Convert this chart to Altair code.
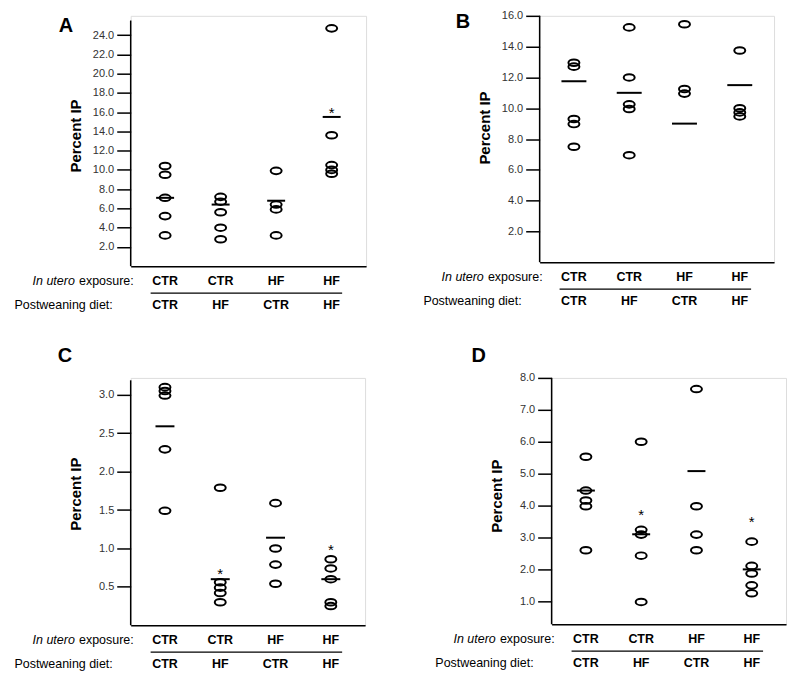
import altair as alt
import pandas as pd

# ---------------- data ----------------
GROUPS = ["CTR|CTR", "CTR|HF", "HF|CTR", "HF|HF"]
IN_UTERO = ["CTR", "CTR", "HF", "HF"]
POSTWEANING = ["CTR", "HF", "CTR", "HF"]

# Panel A
A_VALUES = [
    [10.4, 9.5, 7.1, 5.2, 3.2],
    [7.2, 6.7, 5.6, 4.0, 2.8],
    [9.9, 6.4, 5.9, 3.2],
    [24.7, 13.6, 10.5, 10.0, 9.6],
]
A_MEANS = [7.1, 6.4, 6.8, 15.5]
A_STARS = [None, None, None, 16.2]

# Panel B
B_VALUES = [
    [12.95, 12.7, 9.3, 8.97, 7.5],
    [15.25, 12.0, 10.25, 9.95, 6.95],
    [15.45, 11.25, 10.95],
    [13.75, 10.0, 9.73, 9.47],
]
B_MEANS = [11.75, 11.0, 9.0, 11.5]
B_STARS = [None, None, None, None]

# Panel C
C_VALUES = [
    [3.10, 3.05, 2.99, 2.29, 1.49],
    [1.79, 0.56, 0.49, 0.42, 0.30],
    [1.59, 1.00, 0.79, 0.54],
    [0.86, 0.74, 0.60, 0.30, 0.25],
]
C_MEANS = [2.59, 0.60, 1.14, 0.60]
C_STARS = [None, 0.70, None, 1.02]

# Panel D
D_VALUES = [
    [5.53, 4.47, 4.16, 3.98, 2.60],
    [6.00, 3.24, 3.09, 2.43, 0.98],
    [7.65, 3.98, 3.09, 2.60],
    [2.87, 2.11, 1.87, 1.50, 1.25],
]
D_MEANS = [4.47, 3.10, 5.08, 2.00]
D_STARS = [None, 3.80, None, 3.58]

A_TICKS = [2.0, 4.0, 6.0, 8.0, 10.0, 12.0, 14.0, 16.0, 18.0, 20.0, 22.0, 24.0]
B_TICKS = [2.0, 4.0, 6.0, 8.0, 10.0, 12.0, 14.0, 16.0]
C_TICKS = [0.5, 1.0, 1.5, 2.0, 2.5, 3.0]
D_TICKS = [1.0, 2.0, 3.0, 4.0, 5.0, 6.0, 7.0, 8.0]

FONT = "Liberation Sans"
ELLIPSE = "M -1 0 A 1 0.6 0 1 1 1 0 A 1 0.6 0 1 1 -1 0 Z"


def panel(letter, values, means, stars, domain, ticks, W, H, mean_w,
          letter_x, letter_y, title_y, axis_top=0):
    pts = pd.DataFrame([{"group": GROUPS[i], "v": v}
                        for i, vs in enumerate(values) for v in vs])
    mdf = pd.DataFrame({"group": GROUPS, "v": means})
    sdf = pd.DataFrame([{"group": GROUPS[i], "v": s}
                        for i, s in enumerate(stars) if s is not None])
    lab = pd.DataFrame({"group": GROUPS, "utero": IN_UTERO, "post": POSTWEANING})
    one = pd.DataFrame({"t": [letter]})

    xscale = alt.Scale(domain=GROUPS, type="point", padding=0.62)
    xenc = alt.X("group:N", scale=xscale,
                 axis=alt.Axis(labels=False, ticks=False, title=None,
                               domainColor="black", domainWidth=1.5))
    yenc = alt.Y("v:Q", scale=alt.Scale(domain=domain, nice=False, zero=False),
                 axis=alt.Axis(values=ticks, format=".1f", title="Percent IP",
                               grid=False, domain=False, labelFont=FONT,
                               labelFontSize=11, labelColor="#333333",
                               labelPadding=3, tickSize=14, tickWidth=1.5,
                               tickColor="black",
                               titleFont=FONT, titleFontSize=15,
                               titleFontWeight="bold", titleColor="black",
                               titleAngle=270, titleX=-55, titleY=title_y,
                               titleAlign="center", titleBaseline="middle"))

    points = alt.Chart(pts).mark_point(
        shape=ELLIPSE, size=121, filled=False, stroke="black",
        strokeWidth=2, opacity=1).encode(x=xenc, y=yenc)
    mean_ticks = alt.Chart(mdf).mark_tick(
        color="black", thickness=2, size=mean_w, opacity=1).encode(x=xenc, y=yenc)
    # y-axis line (may start a little below the top of the plot)
    yline = alt.Chart(one).mark_rule(color="black", strokeWidth=1.5).encode(
        x=alt.value(0), y=alt.value(axis_top), y2=alt.value(H))
    layers = [yline, points, mean_ticks]
    if len(sdf):
        layers.append(alt.Chart(sdf).mark_text(
            text="*", font=FONT, fontSize=15, color="black",
            baseline="alphabetic", dy=8).encode(x=xenc, y=yenc))

    lab1 = alt.Chart(lab).mark_text(
        font=FONT, fontSize=12.5, fontWeight="bold", color="black",
        baseline="middle").encode(x=xenc, y=alt.value(H + 14.5), text="utero:N")
    lab2 = alt.Chart(lab).mark_text(
        font=FONT, fontSize=12.5, fontWeight="bold", color="black",
        baseline="middle").encode(x=xenc, y=alt.value(H + 38.5), text="post:N")
    sep = alt.Chart(one).mark_rule(color="black", strokeWidth=1.2).encode(
        x=alt.value(20), x2=alt.value(212), y=alt.value(H + 27))
    row1a = alt.Chart(one).mark_text(
        text="In utero", font=FONT, fontSize=12.5, fontStyle="italic",
        color="black", align="right", baseline="middle").encode(
        x=alt.value(-56), y=alt.value(H + 14.5))
    row1b = alt.Chart(one).mark_text(
        text="exposure:", font=FONT, fontSize=12.5, color="black",
        align="right", baseline="middle").encode(
        x=alt.value(3), y=alt.value(H + 14.5))
    row2 = alt.Chart(one).mark_text(
        text="Postweaning diet:", font=FONT, fontSize=12.5, color="black",
        align="right", baseline="middle").encode(
        x=alt.value(-18), y=alt.value(H + 38.5))
    let = alt.Chart(one).mark_text(
        font=FONT, fontSize=20, fontWeight="bold", color="black",
        align="center", baseline="alphabetic").encode(
        x=alt.value(letter_x), y=alt.value(letter_y), text="t:N")

    layers += [lab1, lab2, sep, row1a, row1b, row2, let]
    return alt.layer(*layers).properties(width=W, height=H)


pA = panel("A", A_VALUES, A_MEANS, A_STARS, [0, 26.0], A_TICKS, 236, 251, 18,
           -65, 16.7, 120, axis_top=4.7)
pB = panel("B", B_VALUES, B_MEANS, B_STARS, [0, 16], B_TICKS, 235, 247, 25,
           -77, 12, 112)
pC = panel("C", C_VALUES, C_MEANS, C_STARS, [0, 3.22], C_TICKS, 235, 248, 19,
           -66, -16.3, 116, axis_top=2.4)
pD = panel("D", D_VALUES, D_MEANS, D_STARS, [0.28, 8], D_TICKS, 235, 247, 18,
           -73, -16, 118)

chart = alt.vconcat(
    alt.hconcat(pA, pB, spacing=55),
    alt.hconcat(pC, pD, spacing=68),
    spacing=33,
).properties(
    padding={"left": 5, "top": 0, "right": 5, "bottom": 5}
).configure_view(stroke=None).configure(background="white")

chart.save("out.html", embed_options={"renderer": "svg", "actions": False})
